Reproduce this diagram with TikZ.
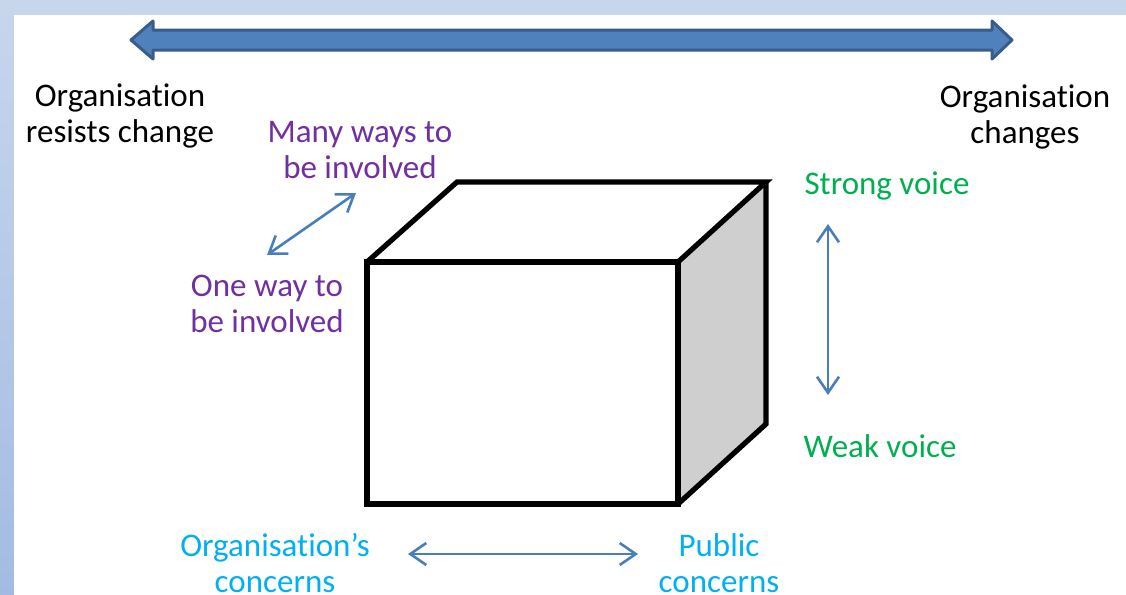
\documentclass[tikz,border=0pt]{standalone}
\usepackage{fontspec}
\setmainfont{Carlito}[Ligatures=CommonOff]
\usepackage{tikz}
\usetikzlibrary{positioning,arrows.meta}

\definecolor{bandtop}{HTML}{C8D6EC}
\definecolor{bandbot}{HTML}{A3BBE3}
\definecolor{bigfill}{HTML}{4F81BD}
\definecolor{bigline}{HTML}{385D8A}
\definecolor{pairblue}{HTML}{4A7EBB}
\definecolor{involve}{HTML}{7030A0}
\definecolor{voice}{HTML}{00B050}
\definecolor{concern}{HTML}{00B0F0}
\definecolor{side}{HTML}{CFCFCF}

\begin{document}
\begin{tikzpicture}[
x=0.5pt, y=-0.5pt,
every node/.style={align=center, inner sep=0pt, font=\fontsize{16.5}{18}\selectfont},
cube/.style={line width=2.6pt, line join=miter},
pair/.style={pairblue, line width=1.3pt, {Straight Barb[length=8pt,width=11pt]}-{Straight Barb[length=8pt,width=11pt]}}
]

% frame
\useasboundingbox (0,0) rectangle (1126,595);
\shade[top color=bandtop, bottom color=bandbot] (0,0) rectangle (1126,595);
\fill[bandtop] (0,0) rectangle (1126,15);
\fill[white] (14,15) rectangle (1126,595);

% wide double arrow
\draw[fill=bigfill, draw=bigline, line width=1.5pt, line join=round]
  (131,40) -- (153,21) -- (153,30) -- (992,30) -- (992,21) -- (1012,40)
  -- (992,59) -- (992,50) -- (153,50) -- (153,59) -- cycle;

% cube
\coordinate (fa) at (367,262);
\coordinate (fb) at (678,262);
\coordinate (fc) at (678,504);
\coordinate (fd) at (367,504);
\coordinate (ba) at (457,182);
\coordinate (bb) at (766,182);
\coordinate (bc) at (766,424);
\fill[side] (fb) -- (bb) -- (bc) -- (fc) -- cycle;
\draw[cube] (fa) rectangle (fc);
\draw[cube] (fa) -- (ba) -- (bb) -- (fb);
\draw[cube] (bb) -- (bc) -- (fc);

% labels
\node (resist) at (120,116) {Organisation\\resists change};
\node (change) at (1025,117) {Organisation\\changes};
\node (many) [text=involve] at (360,150) {Many ways to\\be involved};
\node (one) [text=involve] at (267,304) {One way to\\be involved};
\node (strong) [text=voice] at (887,186) {Strong voice};
\node (weak) [text=voice] at (880,446) {Weak voice};
\node (orgc) [text=concern] at (275,563) {Organisation’s\\concerns};
\node (pubc) [text=concern] at (719,563) {Public\\concerns};

% axis arrows
\coordinate (inv1) at (267,255);
\coordinate (inv2) at (356,193);
\coordinate (vo1) at (828,224);
\coordinate (vo2) at (828,395);
\coordinate (co1) at (408,554);
\coordinate (co2) at (638,554);
\draw[pair] (inv1) -- (inv2);
\draw[pair] (vo1) -- (vo2);
\draw[pair] (co1) -- (co2);

\end{tikzpicture}
\end{document}
